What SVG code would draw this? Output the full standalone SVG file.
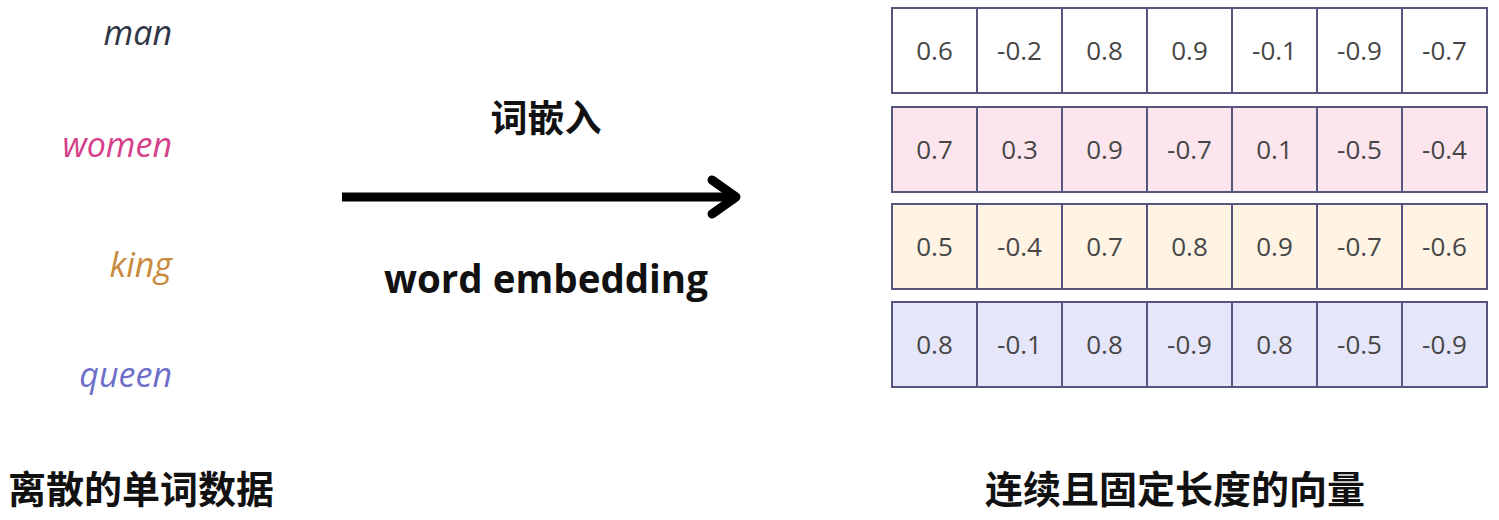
<svg xmlns="http://www.w3.org/2000/svg" width="1499" height="520" viewBox="0 0 1499 520">
<style>
.w{font-family:"Open Sans","Noto Sans",sans-serif;font-style:italic;font-size:34px;text-anchor:end}
.cell{stroke:#55557d;stroke-width:2}
.num{font-family:"Open Sans","Noto Sans",sans-serif;font-size:26px;fill:#464646;text-anchor:middle}
.cjk{font-family:"Noto Sans CJK SC","Noto Sans",sans-serif;font-weight:bold;fill:#111}
.en{font-family:"Open Sans","Noto Sans",sans-serif;font-weight:bold;fill:#111}
</style>
<rect width="1499" height="520" fill="#fff"/>
<g id="words">
<text class="w" x="172" y="45" fill="#2f3545">man</text>
<text class="w" x="172" y="157" fill="#d6408a">women</text>
<text class="w" x="172" y="277" fill="#c98a3e">king</text>
<text class="w" x="172" y="387" fill="#6f6fc9">queen</text>
</g>
<g id="connectors">
<line x1="342" y1="197" x2="732" y2="197" stroke="#000" stroke-width="9"/>
<polyline points="712,180 736,197 712,214" fill="none" stroke="#000" stroke-width="9" stroke-linecap="round" stroke-linejoin="round"/>
</g>
<g id="labels">
<text class="cjk" x="546" y="132" font-size="37" text-anchor="middle">词嵌入</text>
<text class="en" x="546" y="293" font-size="38.5" text-anchor="middle">word embedding</text>
<text class="cjk" x="8" y="503" font-size="38">离散的单词数据</text>
<text class="cjk" x="1175" y="503" font-size="38" text-anchor="middle">连续且固定长度的向量</text>
</g>
<g id="row1">
<g fill="#ffffff" class="cell">
<rect x="892" y="8" width="85" height="85"/><rect x="977" y="8" width="85" height="85"/><rect x="1062" y="8" width="85" height="85"/><rect x="1147" y="8" width="85" height="85"/><rect x="1232" y="8" width="85" height="85"/><rect x="1317" y="8" width="85" height="85"/><rect x="1402" y="8" width="85" height="85"/>
</g>
<text class="num" x="934.5" y="60">0.6</text><text class="num" x="1019.5" y="60">-0.2</text><text class="num" x="1104.5" y="60">0.8</text><text class="num" x="1189.5" y="60">0.9</text><text class="num" x="1274.5" y="60">-0.1</text><text class="num" x="1359.5" y="60">-0.9</text><text class="num" x="1444.5" y="60">-0.7</text>
</g>
<g id="row2">
<g fill="#fde5ee" class="cell">
<rect x="892" y="107" width="85" height="85"/><rect x="977" y="107" width="85" height="85"/><rect x="1062" y="107" width="85" height="85"/><rect x="1147" y="107" width="85" height="85"/><rect x="1232" y="107" width="85" height="85"/><rect x="1317" y="107" width="85" height="85"/><rect x="1402" y="107" width="85" height="85"/>
</g>
<text class="num" x="934.5" y="159">0.7</text><text class="num" x="1019.5" y="159">0.3</text><text class="num" x="1104.5" y="159">0.9</text><text class="num" x="1189.5" y="159">-0.7</text><text class="num" x="1274.5" y="159">0.1</text><text class="num" x="1359.5" y="159">-0.5</text><text class="num" x="1444.5" y="159">-0.4</text>
</g>
<g id="row3">
<g fill="#fff3e4" class="cell">
<rect x="892" y="204" width="85" height="85"/><rect x="977" y="204" width="85" height="85"/><rect x="1062" y="204" width="85" height="85"/><rect x="1147" y="204" width="85" height="85"/><rect x="1232" y="204" width="85" height="85"/><rect x="1317" y="204" width="85" height="85"/><rect x="1402" y="204" width="85" height="85"/>
</g>
<text class="num" x="934.5" y="256">0.5</text><text class="num" x="1019.5" y="256">-0.4</text><text class="num" x="1104.5" y="256">0.7</text><text class="num" x="1189.5" y="256">0.8</text><text class="num" x="1274.5" y="256">0.9</text><text class="num" x="1359.5" y="256">-0.7</text><text class="num" x="1444.5" y="256">-0.6</text>
</g>
<g id="row4">
<g fill="#e6e6fa" class="cell">
<rect x="892" y="302" width="85" height="85"/><rect x="977" y="302" width="85" height="85"/><rect x="1062" y="302" width="85" height="85"/><rect x="1147" y="302" width="85" height="85"/><rect x="1232" y="302" width="85" height="85"/><rect x="1317" y="302" width="85" height="85"/><rect x="1402" y="302" width="85" height="85"/>
</g>
<text class="num" x="934.5" y="354">0.8</text><text class="num" x="1019.5" y="354">-0.1</text><text class="num" x="1104.5" y="354">0.8</text><text class="num" x="1189.5" y="354">-0.9</text><text class="num" x="1274.5" y="354">0.8</text><text class="num" x="1359.5" y="354">-0.5</text><text class="num" x="1444.5" y="354">-0.9</text>
</g>
</svg>
